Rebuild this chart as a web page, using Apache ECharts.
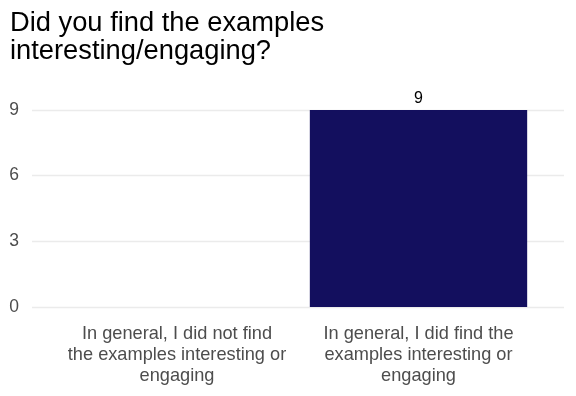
<!DOCTYPE html>
<html><head><meta charset="utf-8">
<script src="https://cdn.jsdelivr.net/npm/echarts@6/dist/echarts.min.js"></script>
<style>html,body{margin:0;padding:0;background:#fff}#c{width:576px;height:396px}</style>
</head><body><div id="c"></div>
<script>
const titleText = 'Did you find the examples\ninteresting/engaging?';
const categories = [
  'In general, I did not find\nthe examples interesting or\nengaging',
  'In general, I did find the\nexamples interesting or\nengaging'
];
const counts = [0, 9];
const yMin = 0, yMax = 9, yInterval = 3;

const font = 'Liberation Sans, Arial, Helvetica, sans-serif';
const chart = echarts.init(document.getElementById('c'), null, {renderer: 'canvas'});
const gridTop = 110, gridBottom = 89;
chart.setOption({
  animation: false,
  backgroundColor: '#ffffff',
  title: {
    text: titleText, left: 10, top: 9, padding: 0,
    textStyle: {fontFamily: font, fontSize: 27.3, fontWeight: 'normal', color: '#000', lineHeight: 28.5}
  },
  grid: [
    {left: 56.25, right: 36.75, top: gridTop, bottom: gridBottom},
    {left: 32, right: 12, top: gridTop, bottom: gridBottom}
  ],
  xAxis: [
    {
      type: 'category', gridIndex: 0, data: categories,
      axisLine: {show: false}, axisTick: {show: false},
      axisLabel: {interval: 0, fontFamily: font, fontSize: 18.2, lineHeight: 21, color: '#4D4D4D', margin: 16, align: 'center'}
    },
    {type: 'value', gridIndex: 1, show: false, min: 0, max: 1}
  ],
  yAxis: [
    {type: 'value', gridIndex: 0, show: false, min: yMin, max: yMax, interval: yInterval, splitLine: {show: false}},
    {
      type: 'value', gridIndex: 1, min: yMin, max: yMax, interval: yInterval,
      axisLine: {show: false}, axisTick: {show: false},
      axisLabel: {fontFamily: font, fontSize: 17.5, color: '#4D4D4D', margin: 13},
      splitLine: {lineStyle: {color: '#EBEBEB', width: 1.3}}
    }
  ],
  series: [{
    type: 'bar', xAxisIndex: 0, yAxisIndex: 0, data: counts,
    barWidth: '90%',
    itemStyle: {color: '#130F5E'},
    label: {
      show: true, position: 'top', distance: 3,
      fontFamily: font, fontSize: 16, color: '#000',
      formatter: p => (p.value === 0 ? '' : String(p.value))
    }
  }]
});
</script></body></html>
